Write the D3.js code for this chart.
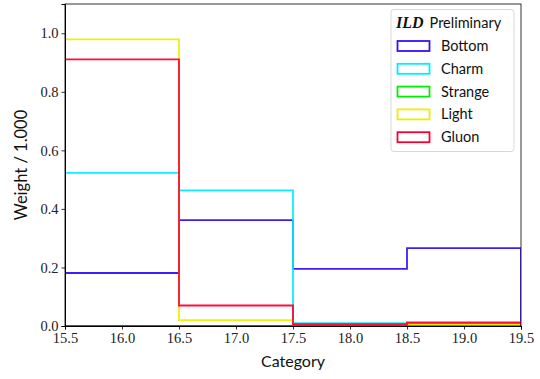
<!DOCTYPE html>
<html><head><meta charset="utf-8">
<script src="https://cdn.jsdelivr.net/npm/d3@7"></script>
<style>body{margin:0;background:#fff}svg{display:block}</style>
</head><body>
<svg id="c" width="540" height="379"></svg>
<script>
const binEdges = [15.5, 16.5, 17.5, 18.5, 19.5];
const seriesNames = ["Bottom", "Charm", "Strange", "Light", "Gluon"];
const bottomVals = [0.181, 0.362, 0.195, 0.266];
const charmVals = [0.523, 0.463, 0.010, 0.008];
const strangeVals = [0.000, 0.000, 0.003, 0.006];
const lightVals = [0.979, 0.020, 0.005, 0.004];
const gluonVals = [0.911, 0.070, 0.006, 0.012];
const xTicks = [15.5, 16.0, 16.5, 17.0, 17.5, 18.0, 18.5, 19.0, 19.5];
const yTicks = [0.0, 0.2, 0.4, 0.6, 0.8, 1.0];
const colors = ["#3311ff", "#00eeff", "#00ee00", "#eeee00", "#ff0030"];
const allVals = [bottomVals, charmVals, strangeVals, lightVals, gluonVals];

const svg = d3.select("#c");
const m = {l: 65, r: 521, t: 4, b: 326};
const x = d3.scaleLinear().domain([15.5, 19.5]).range([m.l, m.r]);
const y = d3.scaleLinear().domain([0, 1.1]).range([m.b, m.t]);

svg.append("clipPath").attr("id", "clip").append("rect")
  .attr("x", m.l).attr("y", m.t).attr("width", m.r - m.l).attr("height", m.b - m.t + 1);

const line = d3.line().x(d => x(d[0])).y(d => y(d[1]));
const g = svg.append("g").attr("clip-path", "url(#clip)");
allVals.forEach((vals, i) => {
  const pts = [[binEdges[0], 0]];
  vals.forEach((v, j) => { pts.push([binEdges[j], v]); pts.push([binEdges[j + 1], v]); });
  pts.push([binEdges[binEdges.length - 1], 0]);
  g.append("path").attr("d", line(pts)).attr("fill", "none")
    .attr("stroke", colors[i]).attr("stroke-width", 1.8).attr("stroke-opacity", 0.95);
});

// frame
svg.append("rect").attr("x", m.l).attr("y", m.t).attr("width", m.r - m.l).attr("height", m.b - m.t)
  .attr("fill", "none").attr("stroke", "#000").attr("stroke-width", 0.8);

const serif = "'Liberation Serif', 'DejaVu Serif', serif";
const sans = "Lato, 'DejaVu Sans', sans-serif";

const xAxis = svg.append("g").attr("transform", `translate(0,${m.b})`)
  .call(d3.axisBottom(x).tickValues(xTicks).tickFormat(d3.format(".1f")).tickSize(3.5).tickPadding(3));
const yAxis = svg.append("g").attr("transform", `translate(${m.l},0)`)
  .call(d3.axisLeft(y).tickValues(yTicks).tickFormat(d3.format(".1f")).tickSize(3.5).tickPadding(3));
[xAxis, yAxis].forEach(a => {
  a.select(".domain").attr("stroke", "#000").attr("stroke-width", 1);
  a.selectAll(".tick line").attr("stroke", "#000").attr("stroke-width", 0.8);
  a.selectAll("text").attr("font-family", serif).attr("font-size", 14.5).attr("fill", "#222");
});

svg.append("text").attr("x", (m.l + m.r) / 2).attr("y", 367).attr("text-anchor", "middle")
  .attr("font-family", sans).attr("font-size", 16).attr("fill", "#111").text("Category");
svg.append("text").attr("transform", `translate(27,${(m.t + m.b) / 2}) rotate(-90)`)
  .attr("text-anchor", "middle").attr("font-family", sans).attr("font-size", 16.5).attr("fill", "#111")
  .text("Weight  / 1.000");

// legend
const lg = svg.append("g");
lg.append("rect").attr("x", 391).attr("y", 9.5).attr("width", 123).attr("height", 142).attr("rx", 3)
  .attr("fill", "#fff").attr("fill-opacity", 0.8).attr("stroke", "#d8d8d8").attr("stroke-width", 1);
const title = lg.append("text").attr("x", 396).attr("y", 28).attr("fill", "#111");
title.append("tspan").attr("font-family", serif).attr("font-style", "italic").attr("font-weight", "bold")
  .attr("font-size", 16).text("ILD");
title.append("tspan").attr("font-family", sans).attr("font-size", 14.5).attr("dx", 6).text("Preliminary");
seriesNames.forEach((n, i) => {
  const yy = 46 + i * 22.8;
  lg.append("rect").attr("x", 397.5).attr("y", yy - 5).attr("width", 32).attr("height", 10)
    .attr("fill", "none").attr("stroke", colors[i]).attr("stroke-width", 1.8);
  lg.append("text").attr("x", 441).attr("y", yy + 5).attr("font-family", sans).attr("font-size", 14.5)
    .attr("fill", "#111").text(n);
});
</script>
</body></html>
